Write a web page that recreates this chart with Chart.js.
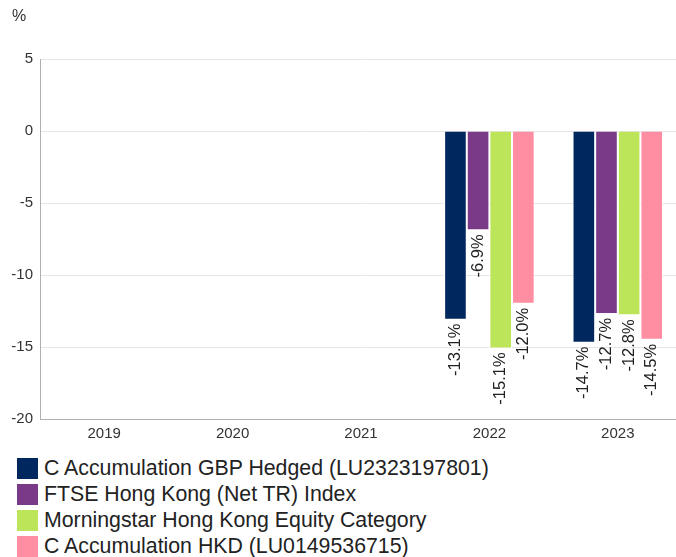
<!DOCTYPE html>
<html>

<head>
  <title>Calendar year performance</title>
  <style>
    body { margin: 0; background: #fff; font-family: "Liberation Sans", Arial, sans-serif; overflow: hidden; }
    #wrap { width: 682px; height: 440px; }
    #legend { margin-top: 15px; padding-left: 17px; }
    .item { display: flex; align-items: center; height: 26px; font-size: 21.3px; color: #222; }
    .box { width: 21px; height: 21px; margin-right: 6px; }
  </style>
</head>

<body>
  <div id="wrap"><canvas id="chart" width="682" height="440"></canvas></div>
  <div id="legend"></div>
  <script src="https://cdn.jsdelivr.net/npm/chart.js"></script>
  <script>
    const years = ['2019', '2020', '2021', '2022', '2023'];
    const fundGbp = [null, null, null, -13.1, -14.7];
    const ftseIndex = [null, null, null, -6.9, -12.7];
    const category = [null, null, null, -15.1, -12.8];
    const fundHkd = [null, null, null, -12.0, -14.5];
    const seriesNames = [
      'C Accumulation GBP Hedged (LU2323197801)',
      'FTSE Hong Kong (Net TR) Index',
      'Morningstar Hong Kong Equity Category',
      'C Accumulation HKD (LU0149536715)'
    ];
    const colors = ['#00285e', '#7b3a88', '#bde55a', '#ff8ea2'];
    const yTicks = [5, 0, -5, -10, -15, -20];

    const allSeries = [fundGbp, ftseIndex, category, fundHkd];

    // value labels, rotated, just past the end of each bar
    const barLabels = {
      id: 'barLabels',
      afterDatasetsDraw(chart) {
        const ctx = chart.ctx;
        ctx.save();
        ctx.font = '16.5px "Liberation Sans", Arial, sans-serif';
        ctx.fillStyle = '#222';
        ctx.textAlign = 'right';
        ctx.textBaseline = 'middle';
        chart.data.datasets.forEach((ds, i) => {
          chart.getDatasetMeta(i).data.forEach((bar, j) => {
            const v = ds.data[j];
            if (v === null) return;
            ctx.save();
            ctx.translate(bar.x, bar.y + 4);
            ctx.rotate(-Math.PI / 2);
            ctx.fillText(v.toFixed(1) + '%', 0, 0);
            ctx.restore();
          });
        });
        // unit label
        ctx.textAlign = 'left';
        ctx.fillStyle = '#333';
        ctx.font = '16px "Liberation Sans", Arial, sans-serif';
        ctx.fillText('%', 12, 17);
        ctx.restore();
      }
    };

    const ctx = document.getElementById('chart').getContext('2d');
    new Chart(ctx, {
      type: 'bar',
      data: {
        labels: years,
        datasets: allSeries.map((d, i) => ({
          label: seriesNames[i],
          data: d,
          backgroundColor: colors[i],
          borderColor: '#ffffff',
          borderWidth: 1,
          categoryPercentage: 0.705,
          barPercentage: 1
        }))
      },
      options: {
        responsive: false,
        animation: false,
        layout: { padding: { top: 59, right: 0, left: 0, bottom: 0 } },
        plugins: {
          legend: { display: false },
          tooltip: { enabled: false }
        },
        scales: {
          x: {
            grid: { display: false, drawTicks: false },
            border: { color: '#b0b0b0' },
            ticks: { color: '#333', font: { size: 15, family: '"Liberation Sans", Arial' }, padding: 6 },
            afterFit: (s) => { s.height = 21; }
          },
          y: {
            min: -20,
            max: 5,
            grid: { color: '#e6e6e6', drawTicks: false },
            border: { color: '#b0b0b0' },
            afterBuildTicks: (s) => { s.ticks = yTicks.map(v => ({ value: v })); },
            ticks: { color: '#333', font: { size: 15, family: '"Liberation Sans", Arial' }, padding: 7 },
            afterFit: (s) => { s.width = 40; }
          }
        }
      },
      plugins: [barLabels]
    });

    const legend = document.getElementById('legend');
    seriesNames.forEach((name, i) => {
      const row = document.createElement('div');
      row.className = 'item';
      row.innerHTML = `<span class="box" style="background:${colors[i]}"></span><span>${name}</span>`;
      legend.appendChild(row);
    });
  </script>
</body>

</html>
